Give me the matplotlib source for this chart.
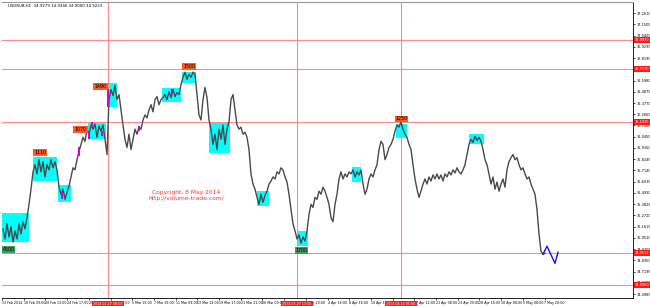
import matplotlib
matplotlib.use("Agg")
import matplotlib.pyplot as plt
import matplotlib.transforms as mtransforms
from matplotlib.patches import Rectangle
import numpy as np

# hourly closes, USDRUB H1 (13 Feb - 7 May 2014)
price = [
    35.14, 35.04, 35.19, 35.06, 35.16, 35.01, 35.12, 35.04, 35.19, 35.09, 35.21, 35.14, 35.25,
    35.38, 35.53, 35.70,
    35.77, 35.68, 35.82, 35.70, 35.80, 35.65, 35.77, 35.72, 35.82, 35.74, 35.80,
    35.72, 35.55, 35.48, 35.53, 35.43, 35.50, 35.56,
    35.65, 35.74, 35.72, 35.82, 35.90, 35.97, 36.04, 36.00,
    36.12, 36.07, 36.16, 36.12, 36.17, 36.04, 36.15, 36.10, 36.16, 36.02, 35.87,
    36.41, 36.51, 36.45, 36.55, 36.41, 36.46, 36.31,
    36.16, 36.02, 35.94, 36.07, 35.92, 36.02, 36.12, 36.07, 36.14, 36.12, 36.21, 36.26,
    36.23, 36.31, 36.36, 36.29, 36.41, 36.44, 36.36, 36.41, 36.43, 36.46, 36.41,
    36.49, 36.43, 36.51, 36.44, 36.48, 36.46, 36.56, 36.63,
    36.68, 36.61, 36.66, 36.63, 36.68, 36.66,
    36.46, 36.26, 36.21, 36.41, 36.53, 36.43,
    36.21, 36.12, 35.97, 36.07, 35.92, 36.12, 36.02, 36.16, 35.97, 36.12, 36.19,
    36.41, 36.46, 36.31, 36.16, 36.12, 36.14, 36.07, 36.09,
    36.04, 35.92, 35.68, 35.58, 35.53, 35.45, 35.38, 35.48, 35.40, 35.47, 35.51, 35.58,
    35.61, 35.65, 35.63, 35.70, 35.68, 35.74, 35.72, 35.65, 35.60, 35.48, 35.33, 35.19, 35.12,
    35.04, 35.08, 35.00, 35.06, 35.02, 35.12,
    35.28, 35.38, 35.35, 35.45, 35.43, 35.51, 35.48, 35.55, 35.51, 35.45, 35.38, 35.25,
    35.21, 35.38, 35.48, 35.63, 35.70, 35.63, 35.68, 35.65, 35.70, 35.68, 35.72, 35.65,
    35.70, 35.67, 35.72, 35.58, 35.48, 35.53, 35.63, 35.68, 35.65, 35.72, 35.77, 35.92,
    36.00, 35.97, 35.82, 35.87, 35.94, 35.97, 36.02, 36.10, 36.16, 36.14, 36.19, 36.12, 36.07,
    36.04, 35.97, 35.92, 35.77, 35.63, 35.53, 35.45, 35.51, 35.58, 35.63, 35.58, 35.65,
    35.61, 35.67, 35.63, 35.68, 35.63, 35.67, 35.61, 35.68, 35.65, 35.70, 35.67, 35.72,
    35.69, 35.74, 35.70, 35.68, 35.72, 35.77, 35.87, 35.97, 36.02, 35.99, 36.05, 36.01,
    36.04, 36.00, 35.92, 35.82, 35.77, 35.68, 35.58, 35.65, 35.53, 35.60, 35.51, 35.58,
    35.63, 35.55, 35.72, 35.80, 35.84, 35.87, 35.82, 35.84, 35.77, 35.72, 35.74, 35.68,
    35.63, 35.65, 35.58, 35.53, 35.48, 35.33, 35.09, 34.92, 34.89, 34.90,
]

# projected path (blue)
forecast_x = [270, 272, 276, 277.5]
forecast_y = [34.89, 34.97, 34.80, 34.91]

# cyan volume zones: (bar start, bar end, low, high)
zones = [
    (-0.5, 13, 35.01, 35.30),
    (15, 27, 35.61, 35.85),
    (27.5, 34, 35.40, 35.57),
    (42.5, 51.5, 36.02, 36.19),
    (52.5, 57, 36.34, 36.57),
    (79.5, 89, 36.39, 36.52),
    (89.5, 96.5, 36.57, 36.68),
    (103, 113.5, 35.89, 36.18),
    (127, 133, 35.36, 35.51),
    (147, 152.5, 34.97, 35.12),
    (174.5, 179, 35.60, 35.75),
    (196.5, 202, 36.03, 36.17),
    (233, 240.5, 35.97, 36.07),
]

# zone tags: (text, bar start, bar end, price, colour)
tags = [
    ("4500", -0.5, 6, 34.94, "#3c9a5f"),
    ("1110", 15, 22, 35.89, "#ff5a1f"),
    ("1070", 35, 42.5, 36.12, "#ff5a1f"),
    ("1490", 45, 52.5, 36.54, "#ff5a1f"),
    ("1500", 89.5, 96.5, 36.74, "#ff5a1f"),
    ("1250", 196, 202.5, 36.22, "#ff5a1f"),
    ("1700", 146, 152.5, 34.93, "#3c9a5f"),
]

# magenta bars: (bar, low, high)
magenta = [
    (29.5, 35.43, 35.50), (38, 35.86, 35.94), (43, 36.02, 36.10), (44.5, 36.15, 36.19),
    (49.5, 36.05, 36.10), (52.5, 36.34, 36.51), (68, 36.10, 36.15), (84.5, 36.47, 36.51),
]

hlines = [36.9970, 36.7130, 36.1935, 34.9012, 34.5880]
vlines = [52.5, 147, 199]
vline_labels = ["2014.02.27 08:00", "2014.03.27 13:00", "2014.04.14 05:00"]

date_labels = [
    "13 Feb 2014", "18 Feb 09:00", "20 Feb 13:00", "24 Feb 17:00", "26 Feb 21:00",
    "3 Mar 11:00", "5 Mar 15:00", "7 Mar 19:00", "11 Mar 09:00", "13 Mar 13:00",
    "19 Mar 17:00", "21 Mar 21:00", "26 Mar 09:00", "28 Mar 13:00", "1 Apr 20:00",
    "4 Apr 16:00", "8 Apr 16:00", "10 Apr 18:00", "14 Apr 20:00", "17 Apr 12:00",
    "21 Apr 08:00", "23 Apr 20:00", "28 Apr 16:00", "30 Apr 08:00", "5 May 08:00",
    "7 May 20:00",
]

fig = plt.figure(figsize=(6.5, 3.06), dpi=100)
ax = fig.add_axes([2 / 650, 8 / 306, 631 / 650, 296 / 306])
ax.set_xlim(-0.5, 315)
ax.set_ylim(34.46, 37.37)

ysize = 2.5
xsize = 2.3

for x0, x1, lo, hi in zones:
    ax.add_patch(Rectangle((x0, lo), x1 - x0, hi - lo, facecolor="#00ffff",
                           edgecolor="none", zorder=1))

for y in hlines:
    ax.axhline(y, color="#ff8a8a", lw=0.8, zorder=2)
for x in vlines:
    ax.axvline(x, color="#ff8a8a", lw=0.8, zorder=2)

ax.plot(np.arange(len(price)), price, color="#4a4a4a", lw=1.0, zorder=3)
for x, lo, hi in magenta:
    ax.vlines(x, lo, hi, color="#d000d0", lw=1.4, zorder=4)
ax.plot(forecast_x, forecast_y, color="#1010ff", lw=1.0, zorder=4)

for text, x0, x1, y, col in tags:
    ax.add_patch(Rectangle((x0, y - 0.034), x1 - x0, 0.068, facecolor=col,
                           edgecolor="none", zorder=5))
    ax.text((x0 + x1) / 2, y, text, fontsize=3.4, ha="center", va="center", zorder=6)

ax.text(91.5, 35.50, "Copyright, 8 May 2014", color="#ff3030", fontsize=4.3,
        ha="center", va="center")
ax.text(91.5, 35.44, "http://volume-trade.com/", color="#ff3030", fontsize=4.3,
        ha="center", va="center")

ax.text(0.009, 0.993, "USDRUB,H1  34.9279 34.9346 34.9000 34.9223", fontsize=2.8,
        ha="left", va="top", transform=ax.transAxes)

# price scale on the right
ax.yaxis.tick_right()
yticks = np.arange(34.4985, 37.33, 0.1105)
ax.set_yticks(yticks, [f"{v:.4f}" for v in yticks])
ax.tick_params(axis="y", labelsize=ysize, length=1.5, width=0.5, pad=1.0)

xticks = -0.5 + 10.85 * np.arange(len(date_labels))
ax.set_xticks(xticks, date_labels, ha="left")
ax.tick_params(axis="x", labelsize=xsize, length=1.5, width=0.5, pad=0.8)

tr_y = mtransforms.blended_transform_factory(ax.transAxes, ax.transData)
for y in hlines:
    ax.text(1.003, y, f"{y:.4f}", transform=tr_y, fontsize=ysize, color="white",
            ha="left", va="center", clip_on=False, zorder=7,
            bbox=dict(boxstyle="square,pad=0.25", fc="#ff1a1a", ec="none"))

tr_x = mtransforms.blended_transform_factory(ax.transData, ax.transAxes)
for x, lab in zip(vlines, vline_labels):
    ax.text(x, -0.019, lab, transform=tr_x, fontsize=xsize, color="white",
            ha="center", va="center", clip_on=False, zorder=7,
            bbox=dict(boxstyle="square,pad=0.3", fc="#ff1a1a", ec="none"))

ax.spines["left"].set_visible(False)
ax.spines["top"].set_color("#999999")
for side in ["right", "bottom"]:
    ax.spines[side].set_linewidth(0.6)

fig.savefig("out.png", dpi=100)
